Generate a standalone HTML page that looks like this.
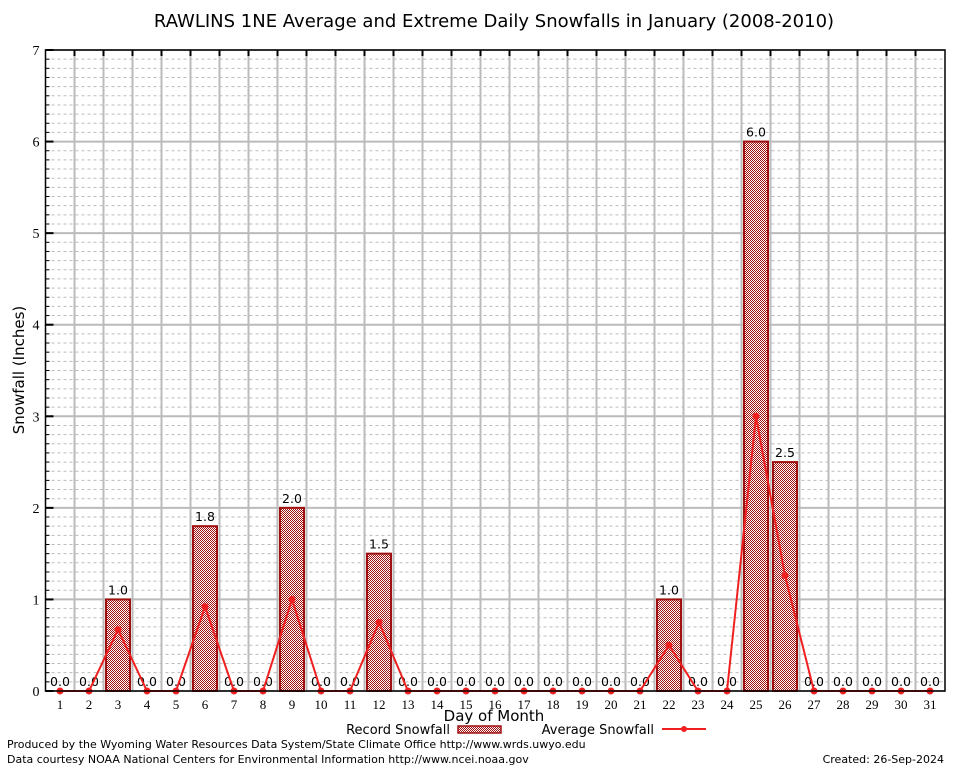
<!DOCTYPE html>
<html><head><meta charset="utf-8"><style>
body{margin:0;background:#fff;}
svg text{font-family:"DejaVu Sans","Liberation Sans",sans-serif;}
svg text.serif{font-family:"Liberation Serif","DejaVu Serif",serif;}
</style></head><body>
<svg id="chart" width="954" height="768" xmlns="http://www.w3.org/2000/svg">
<defs>
<pattern id="hatch" width="2" height="2" patternUnits="userSpaceOnUse">
<rect width="2" height="2" fill="#fff"/>
<rect width="1" height="1" fill="#a01010"/>
<rect x="1" y="1" width="1" height="1" fill="#a01010"/>
</pattern>
</defs>
<rect x="0" y="0" width="954" height="768" fill="#fff"/>
<text x="494" y="27" font-size="18" text-anchor="middle">RAWLINS 1NE Average and Extreme Daily Snowfalls in January (2008-2010)</text>
<g id="grid"></g>
<g id="bars"></g>
<g id="line"></g>
<g id="axes"></g>
<text x="24" y="370" font-size="15" text-anchor="middle" transform="rotate(-90 24 370)">Snowfall (Inches)</text>
<text x="494" y="721" font-size="15" text-anchor="middle">Day of Month</text>
<g>
<text x="450" y="734" font-size="13" text-anchor="end">Record Snowfall</text>
<rect x="458" y="726" width="43" height="7" fill="url(#hatch)" stroke="#a01010" stroke-width="1.5"/>
<text x="654" y="734" font-size="13" text-anchor="end">Average Snowfall</text>
<line x1="662" y1="729" x2="706" y2="729" stroke="#f02020" stroke-width="2"/>
<circle cx="684" cy="729" r="3" fill="#f02020"/>
</g>
<text x="7" y="748" font-size="11">Produced by the Wyoming Water Resources Data System/State Climate Office http://www.wrds.uwyo.edu</text>
<text x="7" y="763" font-size="11">Data courtesy NOAA National Centers for Environmental Information http://www.ncei.noaa.gov</text>
<text x="944" y="763" font-size="11" text-anchor="end">Created: 26-Sep-2024</text>
</svg>
<script>
const days=[1,2,3,4,5,6,7,8,9,10,11,12,13,14,15,16,17,18,19,20,21,22,23,24,25,26,27,28,29,30,31];
const recordSnow=[0,0,1.0,0,0,1.8,0,0,2.0,0,0,1.5,0,0,0,0,0,0,0,0,0,1.0,0,0,6.0,2.5,0,0,0,0,0];
const avgSnow=[0,0,0.67,0,0,0.92,0,0,1.0,0,0,0.75,0,0,0,0,0,0,0,0,0,0.5,0,0,3.0,1.26,0,0,0,0,0];
const yTicks=[0,1,2,3,4,5,6,7];
const NS="http://www.w3.org/2000/svg";
const L=45.5,R=945,T=50,B=691,yMax=7;
function xs(d){return L+14.5+(d-1)*29;}
function ys(v){return B-(v/yMax)*(B-T);}
function mk(tag,attrs,parent,txt){const e=document.createElementNS(NS,tag);for(const k in attrs)e.setAttribute(k,attrs[k]);if(txt!==undefined)e.textContent=txt;parent.appendChild(e);return e;}
const grid=document.getElementById('grid'),bars=document.getElementById('bars'),line=document.getElementById('line'),axes=document.getElementById('axes');
for(let i=0;i<yMax*10;i++){const v=i/10;if(i%10===0)continue;
const g=mk('line',{x1:L,x2:R,y1:ys(v),y2:ys(v),stroke:'#bbb','stroke-width':1,'stroke-dasharray':'3,3'},grid);

}
yTicks.forEach(v=>{const g=mk('line',{x1:L,x2:R,y1:ys(v),y2:ys(v),stroke:'#bbb','stroke-width':2},grid);


const t=mk('text',{x:L-6,y:ys(v)+5,'font-size':14,'text-anchor':'end','class':'serif'},axes,String(v));


const tk=mk('line',{x1:L,x2:L+8,y1:ys(v),y2:ys(v),stroke:'#000','stroke-width':2},axes);

});
for(let i=0;i<yMax*10;i++){if(i%10===0)continue;const tk=mk('line',{x1:L,x2:L+4,y1:ys(i/10),y2:ys(i/10),stroke:'#000','stroke-width':1},axes);

}
days.forEach((d,i)=>{if(i<days.length-1){const x=xs(d)+14.5;
const g=mk('line',{x1:x,x2:x,y1:T,y2:B,stroke:'#bbb','stroke-width':2},grid);


const tk=mk('line',{x1:x,x2:x,y1:T,y2:T+6,stroke:'#000','stroke-width':2},axes);

}
const t=mk('text',{x:xs(d),y:B+18,'font-size':13,'text-anchor':'middle','class':'serif'},axes,String(d));

});
days.forEach((d,i)=>{const v=recordSnow[i];
if(v>0){const b=mk('rect',{x:xs(d)-12,y:ys(v),width:24,height:B-ys(v),fill:'url(#hatch)',stroke:'#a01010','stroke-width':2},bars);

}
const t=mk('text',{x:xs(d),y:ys(v)-5,'font-size':12.5,'text-anchor':'middle'},bars,v.toFixed(1));

});
const pts=days.map((d,i)=>xs(d)+','+ys(avgSnow[i])).join(' ');
const pl=mk('polyline',{points:pts,fill:'none',stroke:'#f02020','stroke-width':2},line);


days.forEach((d,i)=>{const c=mk('circle',{cx:xs(d),cy:ys(avgSnow[i]),r:3.5,fill:'#f02020'},line);

});
const fr=mk('rect',{x:L,y:T,width:R-L,height:B-T,fill:'none',stroke:'#000','stroke-width':1.5},axes);


</script>
</body></html>
